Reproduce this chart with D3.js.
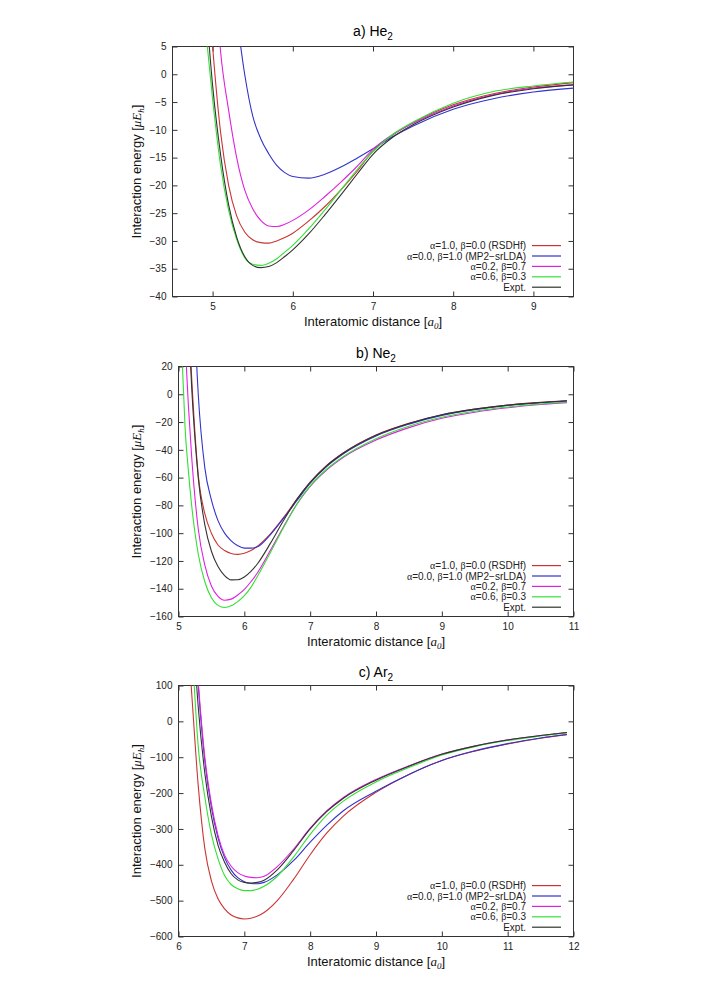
<!DOCTYPE html>
<html>
<head>
<meta charset="utf-8">
<script src="https://cdn.jsdelivr.net/npm/d3@7"></script>
<style>
body { margin: 0; background: #fff; }
text { font-family: "Liberation Sans", Arial, sans-serif; fill: #222; }
.tick text { font-size: 10px; fill: #222; }
.tick line { stroke: #333; }
.axis-title { font-size: 13px; fill: #111; }
.title { font-size: 14px; fill: #000; }
.legend text { font-size: 10px; fill: #222; }
.curve { fill: none; stroke-width: 1.1; }
.frame { fill: none; stroke: #333; stroke-width: 1; }
.greek { font-family: "Liberation Serif", "DejaVu Serif", serif; }
</style>
</head>
<body>
<svg id="chart" width="706" height="999"></svg>
<script>
// legend / series names (same order in every panel)
var legendLabels = ["α=1.0, β=0.0 (RSDHf)", "α=0.0, β=1.0 (MP2−srLDA)", "α=0.2, β=0.7", "α=0.6, β=0.3", "Expt."];
var colors = ["#cc3333", "#3333cc", "#e020e0", "#33e033", "#333333"];

// a) He2  (micro Eh)
var heX      = [4.9, 5.0, 5.1, 5.2, 5.3, 5.4, 5.5, 5.6, 5.7, 5.8, 5.9, 6.0, 6.2, 6.4, 6.6, 6.8, 7.0, 7.25, 7.5, 8.0, 8.5, 9.0, 9.5];
var heRsdhf  = [25, 5, -10.5, -20, -25.5, -28.4, -29.8, -30.3, -30.4, -30.0, -29.4, -28.6, -26.4, -23.8, -20.8, -17.5, -13.8, -10.9, -8.7, -5.5, -3.5, -2.3, -1.5];
var heMp2    = [70, 52, 36, 22, 10.5, 0, -7.5, -11.6, -14.3, -16.4, -17.7, -18.4, -18.7, -18.0, -16.7, -15.1, -13.4, -11.2, -9.3, -6.3, -4.4, -3.2, -2.5];
var heA02    = [40, 24, 4, -6.5, -15, -20.8, -24.2, -26.3, -27.3, -27.4, -27.0, -26.3, -24.4, -22.0, -19.4, -16.6, -13.5, -10.8, -8.8, -5.7, -3.7, -2.5, -1.9];
var heA06    = [10, -4.5, -16.5, -24.5, -29.7, -33.0, -34.2, -34.4, -34.0, -33.2, -32.0, -30.8, -27.8, -24.4, -20.8, -17.2, -13.9, -10.8, -8.6, -5.2, -3.1, -2.1, -1.4];
var heExpt   = [16, -2.0, -14.5, -23.5, -29.3, -32.8, -34.4, -34.8, -34.6, -33.9, -32.8, -31.6, -28.7, -25.3, -21.7, -18.0, -14.4, -11.3, -9.1, -5.9, -3.8, -2.6, -1.9];
var heXTicks = [5, 6, 7, 8, 9];
var heYTicks = [-40, -35, -30, -25, -20, -15, -10, -5, 0, 5];

// b) Ne2
var neX      = [5.0, 5.05, 5.1, 5.15, 5.2, 5.3, 5.4, 5.5, 5.6, 5.7, 5.8, 5.9, 6.0, 6.1, 6.2, 6.4, 6.6, 6.8, 7.0, 7.25, 7.5, 8.0, 8.5, 9.0, 9.5, 10.0, 10.5, 10.9];
var neRsdhf  = [250, 180, 120, 60, 12, -58, -86, -100, -108.5, -112.5, -114.6, -115.3, -114.5, -112.5, -109.3, -100.3, -88.5, -75.5, -63.3, -51.3, -42.3, -29.3, -20.9, -14.7, -10.6, -7.7, -5.8, -4.7];
var neMp2    = [420, 330, 250, 180, 110, 0, -53, -76, -91, -100, -105.5, -109, -110.8, -110.8, -109.8, -100.8, -89, -76.5, -64, -52, -43, -30, -21.5, -15.2, -11.1, -8.1, -6.1, -4.9];
var neA02    = [150, 90, 38, -8, -45, -97, -123, -138, -145.5, -148.3, -147.5, -144.5, -140.5, -135, -128.5, -112, -95, -79, -66.3, -54.5, -45.5, -33, -24, -17.3, -12.9, -9.7, -7.4, -6.0];
var neA06    = [95, 32, -24, -55, -80, -115, -135, -146.5, -152, -153.5, -152.3, -149.3, -145, -139, -131, -113.5, -95.5, -79, -66, -54, -45, -32, -23, -16.6, -12.2, -9.2, -7.0, -5.6];
var neExpt   = [240, 170, 110, 55, 5, -60, -94, -113, -124, -130.5, -133.6, -133.5, -131.5, -127.5, -122, -107, -90.5, -75.5, -63.5, -51.5, -42.5, -29.5, -21, -14.8, -10.7, -7.8, -5.9, -4.7];
var neXTicks = [5, 6, 7, 8, 9, 10, 11];
var neYTicks = [-160, -140, -120, -100, -80, -60, -40, -20, 0, 20];

// c) Ar2
var arX      = [6.1, 6.2, 6.3, 6.4, 6.5, 6.6, 6.7, 6.8, 6.9, 7.0, 7.1, 7.2, 7.3, 7.5, 7.75, 8.0, 8.25, 8.5, 9.0, 9.5, 10.0, 10.5, 11.0, 11.5, 11.9];
var arRsdhf  = [350, 80, -180, -355, -445, -495, -523, -540, -548, -551, -549, -543, -533, -500, -440, -372, -312, -265, -198, -148, -109, -83, -63, -47, -37];
var arMp2    = [750, 400, 100, -110, -240, -325, -380, -415, -436, -447, -452, -453, -449, -428, -388, -337, -290, -250, -195, -148, -109, -82, -62, -46.5, -36.5];
var arA02    = [750, 400, 110, -100, -230, -318, -373, -404, -422, -431, -435, -436, -432, -405, -356, -298, -250, -213, -162, -124, -91, -68.5, -51.5, -39.5, -31];
var arA06    = [500, 220, -71, -211, -315, -383, -430, -455, -467, -472, -472, -468, -460, -432, -378, -315, -262, -223, -169, -129, -94, -70.5, -53.5, -41, -32];
var arExpt   = [650, 320, 40, -145, -265, -345, -393, -425, -442, -449, -451, -449, -443, -414, -360, -300, -252, -215, -164, -125, -92, -69, -52, -39.5, -31];
var arXTicks = [6, 7, 8, 9, 10, 11, 12];
var arYTicks = [-600, -500, -400, -300, -200, -100, 0, 100];

var svg = d3.select("#chart");

var panels = [
  {id: "he", title: "a) He", sub: "2", xs: heX, series: [heRsdhf, heMp2, heA02, heA06, heExpt],
   xDomain: [4.5, 9.5], yDomain: [-40, 5], xTicks: heXTicks, yTicks: heYTicks,
   box: {l: 172.5, r: 573.5, t: 46.5, b: 296.5}, titleY: 35.5},
  {id: "ne", title: "b) Ne", sub: "2", xs: neX, series: [neRsdhf, neMp2, neA02, neA06, neExpt],
   xDomain: [5, 11], yDomain: [-160, 20], xTicks: neXTicks, yTicks: neYTicks,
   box: {l: 178.5, r: 573.5, t: 366.5, b: 616.5}, titleY: 357.5},
  {id: "ar", title: "c) Ar", sub: "2", xs: arX, series: [arRsdhf, arMp2, arA02, arA06, arExpt],
   xDomain: [6, 12], yDomain: [-600, 100], xTicks: arXTicks, yTicks: arYTicks,
   box: {l: 178.5, r: 573.5, t: 685.5, b: 936.5}, titleY: 677}
];

// put α / β in a serif face, like the original
function greekText(sel, str) {
  str.split(/([αβ])/).forEach(function(part) {
    if (!part) return;
    var t = sel.append("tspan").text(part);
    if (part == "α" || part == "β") t.attr("class", "greek");
  });
}

panels.forEach(function(p) {
  var b = p.box,
      w = b.r - b.l,
      h = b.b - b.t;

  var x = d3.scaleLinear().domain(p.xDomain).range([0, w]);
  var y = d3.scaleLinear().domain(p.yDomain).range([h, 0]);

  var g = svg.append("g")
      .attr("transform", "translate(" + b.l + "," + b.t + ")");

  g.append("clipPath")
      .attr("id", "clip-" + p.id)
    .append("rect")
      .attr("width", w)
      .attr("height", h);

  // ticks on all four sides, pointing inwards
  g.append("g")
      .attr("class", "axis")
      .attr("transform", "translate(0," + h + ")")
      .call(d3.axisBottom(x).tickValues(p.xTicks).tickSizeInner(-5).tickSizeOuter(0).tickPadding(6).tickFormat(d3.format("d")));
  g.append("g")
      .attr("class", "axis")
      .call(d3.axisTop(x).tickValues(p.xTicks).tickSizeInner(-5).tickSizeOuter(0).tickFormat(""));
  g.append("g")
      .attr("class", "axis")
      .call(d3.axisLeft(y).tickValues(p.yTicks).tickSizeInner(-5).tickSizeOuter(0).tickPadding(6).tickFormat(d3.format("d")));
  g.append("g")
      .attr("class", "axis")
      .attr("transform", "translate(" + w + ",0)")
      .call(d3.axisRight(y).tickValues(p.yTicks).tickSizeInner(-5).tickSizeOuter(0).tickFormat(""));
  g.selectAll(".axis .domain").remove();

  g.append("rect")
      .attr("class", "frame")
      .attr("width", w)
      .attr("height", h);

  var line = d3.line()
      .curve(d3.curveMonotoneX)
      .x(function(d) { return x(d[0]); })
      .y(function(d) { return y(d[1]); });

  var curves = g.append("g").attr("clip-path", "url(#clip-" + p.id + ")");
  p.series.forEach(function(ys, i) {
    curves.append("path")
        .datum(p.xs.map(function(v, j) { return [v, ys[j]]; }))
        .attr("class", "curve")
        .attr("stroke", colors[i])
        .attr("d", line);
  });

  // legend, bottom right
  var leg = g.append("g").attr("class", "legend");
  legendLabels.forEach(function(lab, i) {
    var ly = h - 9.3 - (legendLabels.length - 1 - i) * 10.4;
    leg.append("line")
        .attr("x1", w - 41.5).attr("x2", w - 12.5)
        .attr("y1", ly).attr("y2", ly)
        .attr("stroke", colors[i])
        .attr("stroke-width", 1.2);
    var t = leg.append("text")
        .attr("x", w - 47.5)
        .attr("y", ly + 3.5)
        .style("text-anchor", "end");
    greekText(t, lab);
  });

  // title
  var tt = svg.append("text")
      .attr("class", "title")
      .attr("x", b.l + w / 2)
      .attr("y", p.titleY)
      .style("text-anchor", "middle");
  tt.append("tspan").text(p.title);
  tt.append("tspan").attr("dy", 4).style("font-size", "10px").text(p.sub);

  // x axis title
  var xt = svg.append("text")
      .attr("class", "axis-title")
      .attr("x", b.l + w / 2)
      .attr("y", b.b + 29)
      .style("text-anchor", "middle");
  xt.append("tspan").text("Interatomic distance [");
  xt.append("tspan").attr("class", "greek").style("font-style", "italic").text("a");
  xt.append("tspan").attr("class", "greek").style("font-style", "italic").style("font-size", "9px").attr("dy", 3).text("0");
  xt.append("tspan").attr("dy", -3).text("]");

  // y axis title
  var yt = svg.append("text")
      .attr("class", "axis-title")
      .attr("transform", "translate(140.5," + (b.t + h / 2) + ") rotate(-90)")
      .style("text-anchor", "middle");
  yt.append("tspan").text("Interaction energy [");
  yt.append("tspan").attr("class", "greek").style("font-style", "italic").text("μE");
  yt.append("tspan").attr("class", "greek").style("font-style", "italic").style("font-size", "9px").attr("dy", 3).text("h");
  yt.append("tspan").attr("dy", -3).text("]");
});
</script>
</body>
</html>
